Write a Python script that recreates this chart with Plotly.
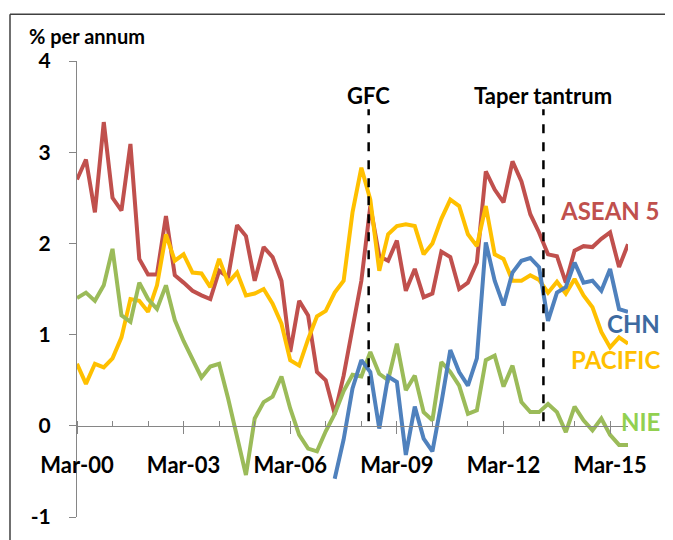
import pandas as pd
import plotly.graph_objects as go

# Quarterly observations, Mar-00 .. Sep-15
dates = pd.date_range("2000-03-01", "2015-09-01", freq="3MS")

asean5 = [2.70, 2.92, 2.34, 3.33, 2.50, 2.36, 3.09, 1.83, 1.66, 1.66,
          2.30, 1.65, 1.57, 1.48, 1.43, 1.39, 1.70, 1.63, 2.20, 2.08,
          1.59, 1.96, 1.85, 1.59, 0.81, 1.37, 1.21, 0.59, 0.50, 0.13,
          0.55, 1.10, 1.59, 2.41, 1.86, 1.81, 2.03, 1.48, 1.72, 1.41,
          1.45, 1.91, 1.85, 1.50, 1.57, 1.79, 2.79, 2.59, 2.45, 2.90,
          2.68, 2.32, 2.12, 1.88, 1.86, 1.57, 1.92, 1.97, 1.96, 2.05,
          2.12, 1.74, 1.99]

pacific = [0.68, 0.46, 0.68, 0.64, 0.74, 0.97, 1.39, 1.37, 1.25, 1.54,
           2.10, 1.81, 1.88, 1.68, 1.67, 1.52, 1.83, 1.57, 1.68, 1.43,
           1.45, 1.50, 1.34, 1.12, 0.72, 0.66, 0.95, 1.20, 1.26, 1.46,
           1.59, 2.34, 2.83, 2.48, 1.70, 2.10, 2.19, 2.21, 2.19, 1.88,
           2.00, 2.27, 2.48, 2.41, 2.10, 1.97, 2.41, 1.88, 1.83, 1.59,
           1.59, 1.65, 1.60, 1.46, 1.58, 1.45, 1.61, 1.43, 1.30, 1.03,
           0.86, 0.97, 0.90]

nie = [1.40, 1.46, 1.37, 1.54, 1.94, 1.21, 1.14, 1.57, 1.39, 1.28,
       1.54, 1.16, 0.93, 0.73, 0.53, 0.65, 0.68, 0.30, -0.12, -0.54,
       0.08, 0.26, 0.32, 0.54, 0.19, -0.10, -0.25, -0.28, -0.06, 0.13,
       0.38, 0.56, 0.54, 0.81, 0.57, 0.50, 0.90, 0.39, 0.55, 0.15,
       0.06, 0.70, 0.59, 0.44, 0.13, 0.17, 0.72, 0.77, 0.43, 0.66,
       0.26, 0.15, 0.15, 0.24, 0.15, -0.07, 0.21, 0.06, -0.05, 0.08,
       -0.10, -0.21, -0.21]

# China series starts Jun-07
chn_start = 29
chn = [-0.58, -0.15, 0.41, 0.72, 0.59, -0.03, 0.54, 0.48, -0.32, 0.21,
       -0.14, -0.28, 0.25, 0.83, 0.59, 0.44, 0.74, 2.01, 1.59, 1.32,
       1.68, 1.81, 1.84, 1.74, 1.15, 1.46, 1.52, 1.79, 1.57, 1.59,
       1.48, 1.72, 1.28, 1.25]

x_ticks = ["2000-03-01", "2003-03-01", "2006-03-01", "2009-03-01", "2012-03-01", "2015-03-01"]
y_ticks = [-1, 0, 1, 2, 3, 4]
y_ticktext = ["-1", "0", "1", "2", "3", "4"]

events = [("GFC", "2008-05-15"), ("Taper tantrum", "2013-04-15")]

FONT = "Lato"
AXIS_GREY = "#868686"

fig = go.Figure()

series = [
    ("ASEAN 5", dates, asean5, "#C0504D"),
    ("PACIFIC", dates, pacific, "#FFC000"),
    ("NIE", dates, nie, "#9BBB59"),
    ("CHN", dates[chn_start:], chn, "#4F81BD"),
]
for name, xs, ys, col in series:
    fig.add_trace(go.Scatter(x=xs, y=ys, mode="lines", name=name,
                             line=dict(color=col, width=4)))

# event markers
for label, d in events:
    fig.add_shape(type="line", xref="x", yref="y", x0=d, x1=d, y0=0.05, y1=3.47,
                  line=dict(color="black", width=2.5, dash="dash"))
    fig.add_annotation(x=d, y=3.62, xref="x", yref="y", text=label, showarrow=False,
                       font=dict(family=FONT, size=22, color="black", weight="bold"))

# series labels on the right
labels = [("ASEAN 5", 2.36, "#C0504D"), ("CHN", 1.12, "#3D6AA0"),
          ("PACIFIC", 0.73, "#FFC000"), ("NIE", 0.05, "#92D050")]
for text, yv, col in labels:
    fig.add_annotation(x=1.062, y=yv, xref="paper", yref="y", text=text, showarrow=False,
                       xanchor="right", yanchor="middle",
                       font=dict(family=FONT, size=24, color=col, weight="bold"))

fig.add_annotation(x=-0.091, y=1.0546, xref="paper", yref="paper", text="% per annum",
                   showarrow=False, xanchor="left", yanchor="middle",
                   font=dict(family=FONT, size=20, color="black", weight="bold"))

# frame (top and left edges visible)
fig.add_shape(type="line", xref="paper", yref="paper", x0=-0.1216, x1=1.2, y0=1.1026, y1=1.1026,
              line=dict(color="#404040", width=1.5))
fig.add_shape(type="line", xref="paper", yref="paper", x0=-0.1216, x1=-0.1216, y0=-0.2, y1=1.1026,
              line=dict(color="#404040", width=1.5))

# page body keeps an 8px margin, so the figure is 8px smaller than the window
fig.update_layout(
    width=665, height=532,
    margin=dict(l=69, r=45, t=53, b=21),
    paper_bgcolor="white", plot_bgcolor="white",
    showlegend=False,
    font=dict(family=FONT, color="black"),
    xaxis=dict(
        range=[dates[0], dates[-1]],
        tickmode="array", tickvals=x_ticks, tickformat="%b-%y",
        anchor="free", position=0.2,
        showline=True, linecolor=AXIS_GREY, linewidth=1,
        ticks="outside", ticklen=7, tickcolor=AXIS_GREY,
        minor=dict(dtick="M12", tick0="2000-03-01", ticks="inside", ticklen=5, tickcolor=AXIS_GREY),
        ticklabelstandoff=13,
        showgrid=False, zeroline=False,
        tickfont=dict(family=FONT, size=22, color="black", weight="bold"),
    ),
    yaxis=dict(
        range=[-1, 4], tickmode="array", tickvals=y_ticks, ticktext=y_ticktext,
        showline=True, linecolor=AXIS_GREY, linewidth=1,
        ticks="outside", ticklen=7, tickcolor=AXIS_GREY,
        ticklabelstandoff=14,
        showgrid=False, zeroline=False,
        tickfont=dict(family=FONT, size=21, color="black", weight="bold"),
    ),
)

fig.write_html("out.html")
